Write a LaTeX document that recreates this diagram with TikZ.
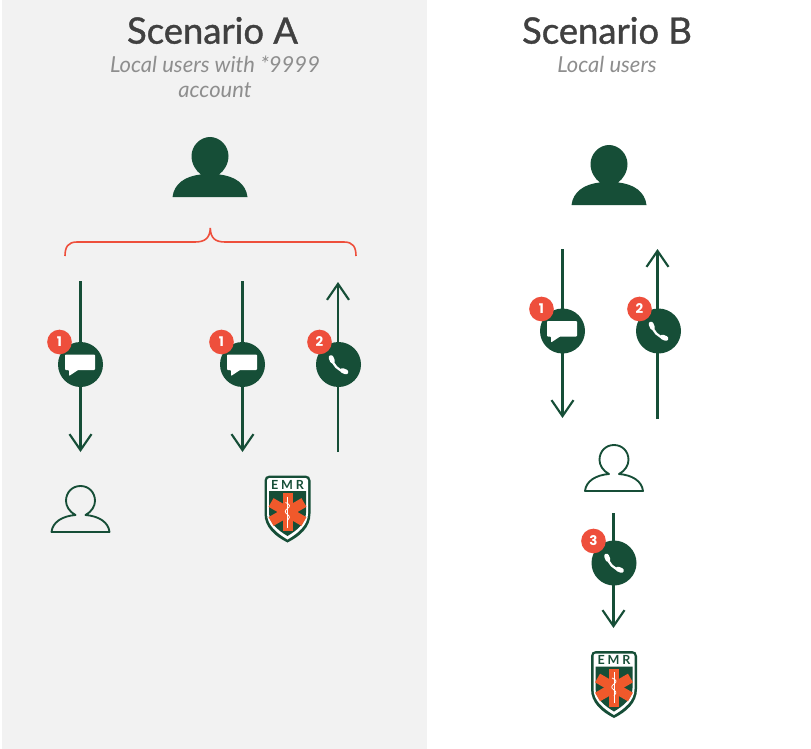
\documentclass[tikz,border=0pt]{standalone}
\usepackage{fontspec}
\setmainfont{Lato}
\newfontfamily\titlefont[FakeBold=1.1]{Lato}
\newfontfamily\badgefont{Poppins}
\usepackage{xcolor}
\usetikzlibrary{arrows.meta}
\definecolor{emrgreen}{HTML}{164E37}
\definecolor{badgered}{HTML}{EE4F3C}
\definecolor{staror}{HTML}{F0592B}
\definecolor{panelgray}{HTML}{F2F2F2}
\definecolor{titlegray}{HTML}{404040}
\definecolor{subgray}{HTML}{8E8E8E}
\tikzset{
 title/.style={text=titlegray,font=\titlefont\fontsize{27.3}{30}\selectfont,inner sep=0pt},
 subtitle/.style={text=subgray,font=\fontsize{16.5}{19}\itshape\selectfont,inner sep=0pt},
 flow/.style={emrgreen,line width=1.6pt,-{Straight Barb[length=12pt,width=16.5pt,line width=1.6pt]}},
 iconcircle/.style={circle,fill=emrgreen,minimum size=33.75pt,inner sep=0pt},
 badge/.style={circle,fill=badgered,text=white,minimum size=18.5pt,inner sep=0pt,
  font=\badgefont\fontsize{10}{10}\bfseries\selectfont},
 brace/.style={draw=badgered,line width=1.2pt},
 personfill/.pic={
  \fill[emrgreen] (0,-60) .. controls (10,-60) and (18.5,-51) .. (18.5,-41)
   .. controls (18.5,-33) and (14,-26) .. (9,-22.5)
   .. controls (25,-21) and (36,-13) .. (37.5,0) -- (-37.5,0)
   .. controls (-36,-13) and (-25,-21) .. (-9,-22.5)
   .. controls (-14,-26) and (-18.5,-33) .. (-18.5,-41)
   .. controls (-18.5,-51) and (-10,-60) .. (0,-60) -- cycle;
 },
 personline/.pic={
  \draw[emrgreen,line width=1.4pt,line join=round] (-5,-17) .. controls (-11,-20) and (-14.5,-26) .. (-14.5,-31)
   .. controls (-14.5,-40) and (-8,-46) .. (0,-46)
   .. controls (8,-46) and (14.5,-40) .. (14.5,-31)
   .. controls (14.5,-26) and (11,-20) .. (5,-17)
   .. controls (18,-16) and (28,-10) .. (29,0) -- (-29,0)
   .. controls (-28,-10) and (-18,-16) .. (-5,-17) -- cycle;
 },
 chat/.pic={
  \fill[white,rounded corners=.6pt] (-15.5,-10) -- (14.5,-10) -- (14.5,5.5) -- (-2.5,5.5)
   -- (-11.5,11.5) -- (-11.5,5.5) -- (-15.5,5.5) -- cycle;
 },
 phone/.pic={
  \draw[white,line width=1.7pt] (-6.5,-6) .. controls (-6,0) and (0,6.5) .. (6.5,7);
  \draw[white,line width=3.6pt,line cap=round] (-7.5,-7) -- (-6,-3.5);
  \draw[white,line width=3.6pt,line cap=round] (4,6) -- (7.5,7.5);
 },
 emr/.pic={
  \fill[emrgreen] (-23,5) .. controls (-23,2) and (-21,0) .. (-18,0) -- (18,0)
   .. controls (21,0) and (23,2) .. (23,5) -- (23,38)
   .. controls (23,52) and (12,61) .. (0,67)
   .. controls (-12,61) and (-23,52) .. (-23,38) -- cycle;
  \fill[white] (-20.5,5) .. controls (-20.5,3.5) and (-19,2.5) .. (-18,2.5) -- (18,2.5)
   .. controls (19,2.5) and (20.5,3.5) .. (20.5,5) -- (20.5,38)
   .. controls (20.5,50) and (10,58) .. (0,64)
   .. controls (-10,58) and (-20.5,50) .. (-20.5,38) -- cycle;
  \fill[emrgreen] (-18.5,15.5) -- (18.5,15.5) -- (18.5,37)
   .. controls (18.5,48) and (9,55) .. (0,60.5)
   .. controls (-9,55) and (-18.5,48) .. (-18.5,37) -- cycle;
  \foreach \a in {0,60,120}
   \fill[staror,rotate around={\a:(0,36.5)}] (-5,17.5) rectangle (5,55.5);
  \draw[white,line width=.7pt] (0,21) -- (0,52);
  \draw[white,line width=.6pt] (-2,27) .. controls (3,29) and (3,31) .. (0,33)
   .. controls (-3,35) and (-3,37) .. (0,39) .. controls (3,41) and (2,43) .. (0,45);
  \node[text=emrgreen,inner sep=0pt,font=\fontsize{9.4}{9.4}\bfseries\selectfont] (-text) at (0,9.2) {E\hspace{2.2pt}M\hspace{2.2pt}R};
 },
}

\begin{document}
\begin{tikzpicture}[x=.75pt,y=-.75pt]
        \useasboundingbox (0,0) rectangle (811,749);
        \fill[white] (0,0) rectangle (811,749);
        \fill[panelgray] (2,0) rectangle (427,749);

        \node[title] (titleA) at (212.5,30.5) {Scenario A};
        \node[subtitle] (subA) at (215,64.5) {Local users with *9999};
        \node[subtitle] (subAtwo) at (215,90) {account};
        \node[title] (titleB) at (607,30.5) {Scenario B};
        \node[subtitle] (subB) at (607,64.5) {Local users};

        \pic at (210,197) {personfill};
        \pic at (609,205) {personfill};
        \draw[brace] (65,256) .. controls (65,247) and (68,242) .. (77,242) -- (195,242)
            .. controls (205,242) and (210,238) .. (210.3,228)
            .. controls (210.6,238) and (215,242) .. (225,242) -- (344,242)
            .. controls (353,242) and (356,247) .. (356,256);

        % scenario A
        \coordinate (aoneS) at (80.5,281);
        \coordinate (aoneE) at (80.5,452);
        \coordinate (atwoS) at (242.5,281);
        \coordinate (atwoE) at (242.5,452);
        \coordinate (athreeS) at (338,452);
        \coordinate (athreeE) at (338,282);
        \draw[flow] (aoneS) -- (aoneE);
        \draw[flow] (atwoS) -- (atwoE);
        \draw[flow] (athreeS) -- (athreeE);
        \node[iconcircle] (aone) at (80.5,364.5) {};
        \node[iconcircle] (atwo) at (242.5,364.5) {};
        \node[iconcircle] (athree) at (338.5,364.5) {};
        \pic at (aone) {chat};
        \pic at (atwo) {chat};
        \pic at (athree) {phone};
        \node[badge] (aonenum) at (59.5,342) {1};
        \node[badge] (atwonum) at (221.5,342) {1};
        \node[badge] (athreenum) at (319.5,342) {2};
        \pic at (80.5,532) {personline};
        \pic (emrA) at (287.5,475.5) {emr};

        % scenario B
        \coordinate (boneS) at (562.5,249);
        \coordinate (boneE) at (562.5,418);
        \coordinate (btwoS) at (657.5,419);
        \coordinate (btwoE) at (657.5,249);
        \coordinate (bthreeS) at (613.5,513);
        \coordinate (bthreeE) at (613.5,628);
        \draw[flow] (boneS) -- (boneE);
        \draw[flow] (btwoS) -- (btwoE);
        \draw[flow] (bthreeS) -- (bthreeE);
        \node[iconcircle] (bone) at (562.5,331) {};
        \node[iconcircle] (btwo) at (658.5,331) {};
        \node[iconcircle] (bthree) at (614,563) {};
        \pic at (bone) {chat};
        \pic at (btwo) {phone};
        \pic at (bthree) {phone};
        \node[badge] (bonenum) at (541.5,309) {1};
        \node[badge] (btwonum) at (639.5,309) {2};
        \node[badge] (bthreenum) at (593.5,541) {3};
        \pic at (614,491) {personline};
        \pic (emrB) at (614,651) {emr};
    \end{tikzpicture}
\end{document}
